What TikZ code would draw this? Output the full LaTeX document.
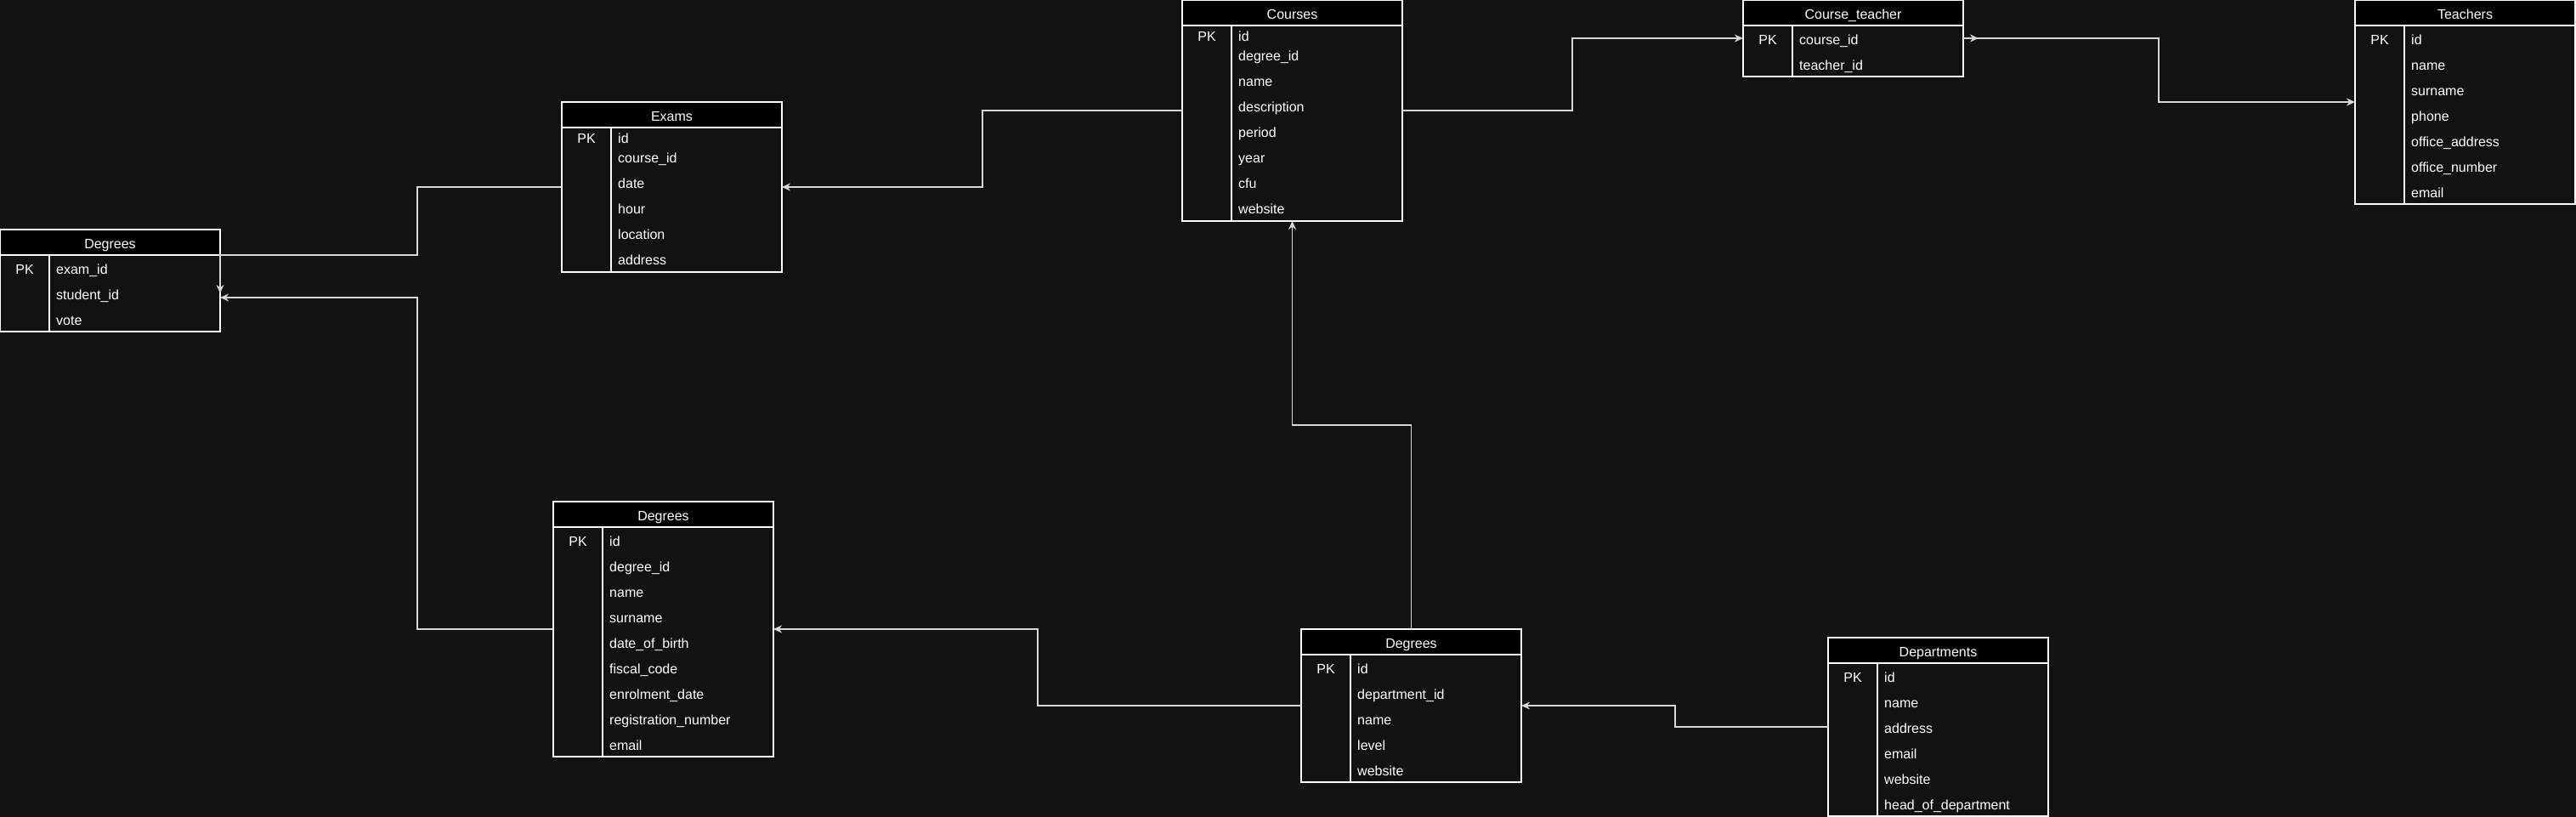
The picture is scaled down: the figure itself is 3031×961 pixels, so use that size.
\documentclass[tikz,border=0pt]{standalone}
\usepackage{fontspec}
\setmainfont{Liberation Sans}
\usepackage{tikz}
\usetikzlibrary{positioning,arrows.meta,calc}
\definecolor{canvas}{RGB}{18,18,18}
\definecolor{fkgray}{RGB}{215,215,215}
\tikzset{
  tbl/.style={draw=white,line width=1.6pt,fill=canvas,minimum width=259pt,
             anchor=north west,outer sep=0pt,inner sep=0pt},
  tblhead/.style={draw=white,line width=1.6pt,fill=black,minimum width=259pt,
             minimum height=30pt,anchor=north,outer sep=0pt,inner sep=0pt,
             text=white,text height=14pt,text depth=0pt},
  pk/.style={text=white,inner sep=0pt,text height=14pt,text depth=0pt},
  field/.style={pk,anchor=west},
  pkline/.style={draw=white,line width=1.6pt},
  fk/.style={->,>={Stealth[length=10pt,width=9pt]},line width=1.8pt,fkgray},
}

\begin{document}
\begin{tikzpicture}[x=1pt,y=-1pt,every node/.style={font=\fontsize{16pt}{19pt}\selectfont}]
  \fill[canvas] (0,0) rectangle (3031,961);
  \useasboundingbox (0,0) rectangle (3031,961);
  % Degrees (exam results)
  \node[tbl,minimum height=120pt] (deg1) at (0,270) {};
  \node[tblhead] (deg1-h) at (deg1.north) {Degrees};
  \draw[pkline] ([xshift=58pt]deg1-h.south west) -- ([xshift=58pt]deg1.south west);
  \node[pk] at ([xshift=29pt,yshift=-15pt]deg1-h.south west) {PK};
  \foreach \f [count=\i] in {exam\_id,student\_id,vote}
    \node[field] (deg1-\i) at ([xshift=66pt,yshift=15pt-30pt*\i]deg1-h.south west) {\f};
  % Exams
  \node[tbl,minimum height=200pt] (exams) at (661,120) {};
  \node[tblhead] (exams-h) at (exams.north) {Exams};
  \draw[pkline] ([xshift=58pt]exams-h.south west) -- ([xshift=58pt]exams.south west);
  \node[pk] at ([xshift=29pt,yshift=-11pt]exams-h.south west) {PK};
  \node[field] (exams-1) at ([xshift=66pt,yshift=-11pt]exams-h.south west) {id};
  \foreach \f [count=\i from 2] in {course\_id,date,hour,location,address}
    \node[field] (exams-\i) at ([xshift=66pt,yshift=26pt-30pt*\i]exams-h.south west) {\f};
  % Courses
  \node[tbl,minimum height=260pt] (courses) at (1391,0) {};
  \node[tblhead] (courses-h) at (courses.north) {Courses};
  \draw[pkline] ([xshift=58pt]courses-h.south west) -- ([xshift=58pt]courses.south west);
  \node[pk] at ([xshift=29pt,yshift=-11pt]courses-h.south west) {PK};
  \node[field] (courses-1) at ([xshift=66pt,yshift=-11pt]courses-h.south west) {id};
  \foreach \f [count=\i from 2] in {degree\_id,name,description,period,year,cfu,website}
    \node[field] (courses-\i) at ([xshift=66pt,yshift=26pt-30pt*\i]courses-h.south west) {\f};
  % Course_teacher
  \node[tbl,minimum height=90pt] (ct) at (2051,0) {};
  \node[tblhead] (ct-h) at (ct.north) {Course\_teacher};
  \draw[pkline] ([xshift=58pt]ct-h.south west) -- ([xshift=58pt]ct.south west);
  \node[pk] at ([xshift=29pt,yshift=-15pt]ct-h.south west) {PK};
  \foreach \f [count=\i] in {course\_id,teacher\_id}
    \node[field] (ct-\i) at ([xshift=66pt,yshift=15pt-30pt*\i]ct-h.south west) {\f};
  % Teachers
  \node[tbl,minimum height=240pt] (teachers) at (2771,0) {};
  \node[tblhead] (teachers-h) at (teachers.north) {Teachers};
  \draw[pkline] ([xshift=58pt]teachers-h.south west) -- ([xshift=58pt]teachers.south west);
  \node[pk] at ([xshift=29pt,yshift=-15pt]teachers-h.south west) {PK};
  \foreach \f [count=\i] in {id,name,surname,phone,office\_address,office\_number,email}
    \node[field] (teachers-\i) at ([xshift=66pt,yshift=15pt-30pt*\i]teachers-h.south west) {\f};
  % Degrees (students)
  \node[tbl,minimum height=300pt] (students) at (651,590) {};
  \node[tblhead] (students-h) at (students.north) {Degrees};
  \draw[pkline] ([xshift=58pt]students-h.south west) -- ([xshift=58pt]students.south west);
  \node[pk] at ([xshift=29pt,yshift=-15pt]students-h.south west) {PK};
  \foreach \f [count=\i] in {id,degree\_id,name,surname,date\_of\_birth,fiscal\_code,
                             enrolment\_date,registration\_number,email}
    \node[field] (students-\i) at ([xshift=66pt,yshift=15pt-30pt*\i]students-h.south west) {\f};
  % Degrees
  \node[tbl,minimum height=180pt] (degrees) at (1531,740) {};
  \node[tblhead] (degrees-h) at (degrees.north) {Degrees};
  \draw[pkline] ([xshift=58pt]degrees-h.south west) -- ([xshift=58pt]degrees.south west);
  \node[pk] at ([xshift=29pt,yshift=-15pt]degrees-h.south west) {PK};
  \foreach \f [count=\i] in {id,department\_id,name,level,website}
    \node[field] (degrees-\i) at ([xshift=66pt,yshift=15pt-30pt*\i]degrees-h.south west) {\f};
  % Departments
  \node[tbl,minimum height=210pt] (depts) at (2151,750) {};
  \node[tblhead] (depts-h) at (depts.north) {Departments};
  \draw[pkline] ([xshift=58pt]depts-h.south west) -- ([xshift=58pt]depts.south west);
  \node[pk] at ([xshift=29pt,yshift=-15pt]depts-h.south west) {PK};
  \foreach \f [count=\i] in {id,name,address,email,website,head\_of\_department}
    \node[field] (depts-\i) at ([xshift=66pt,yshift=15pt-30pt*\i]depts-h.south west) {\f};
  % Foreign keys
  \draw[fk] (exams.west) -- ++(-170,0) |- (deg1-h.south east) -- ++(0,45);
  \draw[fk] (students.west) -- ++(-160,0) |- ([yshift=-20pt]deg1.east);
  \draw[fk] (courses.west) -- ++(-235,0) |- (exams.east);
  \draw[fk] (courses.east) -- ++(200,0) |- (ct.west);
  \draw[fk] (ct.east) -- ++(18,0);
  \draw[fk] (ct.east) -- ++(230,0) |- (teachers.west);
  \draw[fk] (degrees.north) -- ++(0,-240) -| (courses.south);
  \draw[fk] (degrees.west) -- ++(-310,0) |- (students.east);
  \draw[fk] (depts.west) -- ++(-180,0) |- (degrees.east);
\end{tikzpicture}
\end{document}
